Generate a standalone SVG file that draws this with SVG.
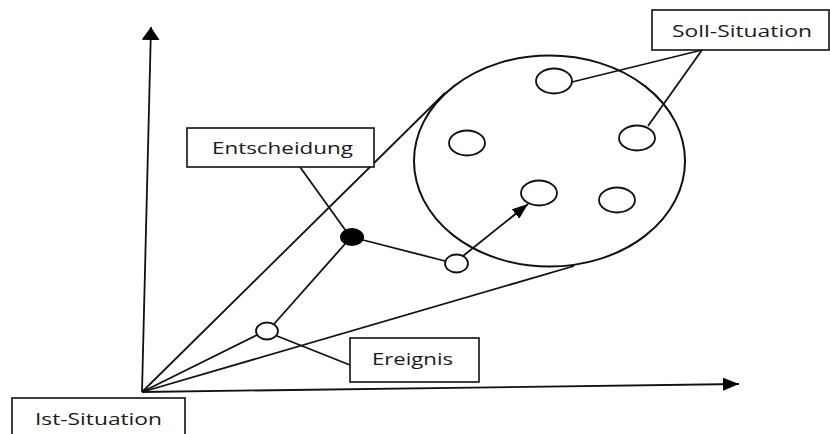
<svg xmlns="http://www.w3.org/2000/svg" width="830" height="434" viewBox="0 0 830 434">
  <style>
    .ln { stroke: #111; stroke-width: 1.8; fill: none; }
    .box { fill: #fff; stroke: #111; stroke-width: 1.6; }
    .lbl { font-family: "Open Sans", "Noto Sans", "Liberation Sans", sans-serif; font-size: 17px; fill: #1a1a1a; }
    .dot { fill: #fff; stroke: #111; stroke-width: 1.8; }
  </style>
  <defs>
    <marker id="arrow-h" markerUnits="userSpaceOnUse" markerWidth="16" markerHeight="13" refX="16" refY="6.5" orient="auto">
      <path d="M0,0 L16,6.5 L0,13 z" fill="#000"/>
    </marker>
    <marker id="arrow-v" markerUnits="userSpaceOnUse" markerWidth="13" markerHeight="18" refX="13" refY="9" orient="auto">
      <path d="M0,0 L13,9 L0,18 z" fill="#000"/>
    </marker>
    <marker id="arrow-m" markerUnits="userSpaceOnUse" markerWidth="16" markerHeight="12" refX="16" refY="6" orient="auto">
      <path d="M0,0 L16,6 L0,12 z" fill="#000"/>
    </marker>
  </defs>

  <!-- axes and connectors -->
  <g id="connectors">
    <line class="ln" x1="142" y1="392" x2="151" y2="27" marker-end="url(#arrow-v)"/>
    <line class="ln" x1="142" y1="392" x2="739" y2="384" marker-end="url(#arrow-h)"/>
    <!-- funnel towards the target region -->
    <line class="ln" x1="142" y1="392" x2="445" y2="93"/>
    <line class="ln" x1="142" y1="392" x2="574" y2="266"/>
    <!-- path of events and decisions -->
    <line class="ln" x1="142" y1="392" x2="257" y2="335"/>
    <line class="ln" x1="274" y1="324" x2="345" y2="244"/>
    <line class="ln" x1="363" y1="240" x2="445" y2="261"/>
    <line class="ln" x1="463" y1="256" x2="528" y2="204" marker-end="url(#arrow-m)"/>
    <!-- label leaders -->
    <line class="ln" x1="300" y1="167" x2="346" y2="231"/>
    <line class="ln" x1="277" y1="336" x2="350" y2="365"/>
    <line class="ln" x1="702" y1="50" x2="572" y2="82"/>
    <line class="ln" x1="702" y1="50" x2="648" y2="126"/>
  </g>

  <!-- target region with possible target states -->
  <g id="soll-bereich">
    <ellipse cx="549.5" cy="161" rx="135.5" ry="105.5" fill="none" stroke="#111" stroke-width="2"/>
    <ellipse class="dot" cx="554" cy="81" rx="18" ry="12.5"/>
    <ellipse class="dot" cx="467" cy="143" rx="18" ry="12.5"/>
    <ellipse class="dot" cx="637" cy="138" rx="18" ry="12.5"/>
    <ellipse class="dot" cx="539" cy="193" rx="18" ry="12.5"/>
    <ellipse class="dot" cx="617" cy="200" rx="18" ry="12.5"/>
  </g>

  <g id="ereignis-punkt">
    <ellipse class="dot" cx="267" cy="331" rx="11" ry="8.5"/>
  </g>
  <g id="entscheidung-punkt">
    <ellipse cx="352" cy="237" rx="12" ry="9" fill="#000"/>
  </g>
  <g id="zwischen-punkt">
    <ellipse class="dot" cx="456.5" cy="263.5" rx="11.5" ry="9"/>
  </g>

  <g id="entscheidung">
    <rect class="box" x="187" y="128" width="187" height="39"/>
    <text class="lbl" x="212" y="154" textLength="141" lengthAdjust="spacingAndGlyphs">Entscheidung</text>
  </g>
  <g id="soll-situation">
    <rect class="box" x="652" y="10" width="177" height="40"/>
    <text class="lbl" x="672" y="37" textLength="140" lengthAdjust="spacingAndGlyphs">Soll-Situation</text>
  </g>
  <g id="ereignis">
    <rect class="box" x="350" y="338" width="129" height="44"/>
    <text class="lbl" x="372" y="365" textLength="81" lengthAdjust="spacingAndGlyphs">Ereignis</text>
  </g>
  <g id="ist-situation">
    <rect class="box" x="12" y="398" width="173" height="46"/>
    <text class="lbl" x="35" y="425" textLength="127" lengthAdjust="spacingAndGlyphs">Ist-Situation</text>
  </g>
</svg>
